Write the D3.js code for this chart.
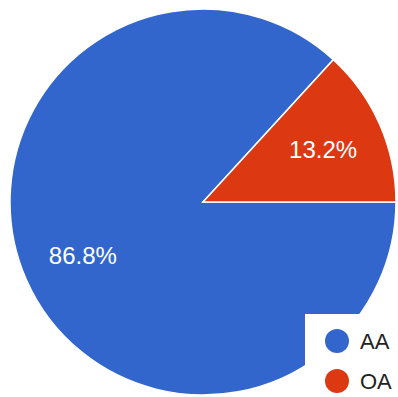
<!DOCTYPE html>
<html>
<head>
<meta charset="utf-8">
<script src="https://cdn.jsdelivr.net/npm/d3@7"></script>
<style>
  body { margin: 0; background: #fff; }
  svg { display: block; font-family: "Liberation Sans", Arial, sans-serif; }
</style>
</head>
<body>
<div id="chart"></div>
<script>
var categories = ["AA", "OA"]
var values = [86.8, 13.2]
var colors = ["#3366cc", "#dc3912"]

var w = 398, h = 397
var cx = 203, cy = 202, r = 193

var svg = d3.select("#chart")
    .append("svg")
    .attr("width", w)
    .attr("height", h)

var data = categories.map((c, i) => ({ name: c, value: values[i] }))

// start at 3 o'clock so OA ends up in the upper right
var pie = d3.pie()
    .sort(null)
    .value(d => d.value)
    .startAngle(Math.PI / 2)
    .endAngle(Math.PI / 2 + 2 * Math.PI)

var arc = d3.arc().innerRadius(0).outerRadius(r)
var labelArc = d3.arc().innerRadius(r * 0.68).outerRadius(r * 0.68)

var color = d3.scaleOrdinal().domain(categories).range(colors)

var g = svg.append("g").attr("transform", "translate(" + cx + "," + cy + ")")

var arcs = pie(data)

g.selectAll("path")
    .data(arcs)
    .enter().append("path")
    .attr("d", arc)
    .attr("fill", d => color(d.data.name))
    .attr("stroke", "#fff")
    .attr("stroke-width", 1.5)

g.selectAll("text.pct")
    .data(arcs)
    .enter().append("text")
    .attr("class", "pct")
    .attr("transform", d => "translate(" + labelArc.centroid(d) + ")")
    .attr("text-anchor", "middle")
    .attr("dy", "0.36em")
    .attr("fill", "#fff")
    .attr("font-size", 24)
    .text(d => d.data.value.toFixed(1) + "%")

// legend box sits on top of the pie, bottom right
var legend = svg.append("g")
legend.append("rect")
    .attr("x", 305).attr("y", 314)
    .attr("width", w - 305).attr("height", h - 314)
    .attr("fill", "#fff")

var item = legend.selectAll("g.item")
    .data(categories)
    .enter().append("g")
    .attr("class", "item")
    .attr("transform", (d, i) => "translate(337," + (341 + i * 40) + ")")

item.append("circle")
    .attr("r", 12)
    .attr("fill", d => color(d))

item.append("text")
    .attr("x", 23)
    .attr("dy", "0.36em")
    .attr("font-size", 22)
    .attr("fill", "#222")
    .text(d => d)
</script>
</body>
</html>
